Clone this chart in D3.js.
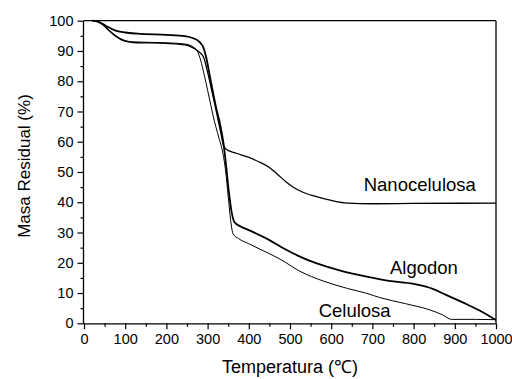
<!DOCTYPE html>
<html><head><meta charset="utf-8">
<script src="https://cdn.jsdelivr.net/npm/d3@7/dist/d3.min.js"></script>
<style>
html,body{margin:0;padding:0;background:#fff;}
svg text{font-family:"Liberation Sans",Arial,Helvetica,sans-serif;fill:#000;}
</style></head>
<body>
<svg id="chart" width="512" height="379"></svg>
<script>
// Data (Temperature °C, residual mass %)
const xTicks = [0,100,200,300,400,500,600,700,800,900,1000];
const yTicks = [0,10,20,30,40,50,60,70,80,90,100];
const seriesNames = ["Algodon","Celulosa","Nanocelulosa"];

const algodon = [[20,100],[30,99.9],[45,99],[60,97.8],[75,96.8],[100,96.1],[130,95.7],[200,95.3],[245,94.9],[265,94.2],[280,93],[290,91],[298,87],[305,82],[315,75],[322,70.5],[330,66],[338,60],[345,52],[352,43],[358,37],[365,33.5],[380,32],[400,30.8],[450,27.5],[484,24.8],[520,22.3],[565,19.8],[620,17.5],[686,15.4],[740,14],[800,13],[848,11.3],[880,9.3],[929,6.3],[970,3.5],[1000,1.1]];

const celulosa = [[20,100],[30,99.8],[45,98.6],[60,97],[75,95.3],[97,93.6],[120,93],[200,92.7],[245,92.3],[265,91.3],[275,90],[283,87],[292,82],[300,77],[308,72],[313,68.8],[320,65],[328,61],[336,57],[344,50],[350,42],[356,34],[362,29.5],[375,28],[400,26.3],[427,24.5],[476,21.2],[524,17.2],[580,14],[640,11.5],[686,9.9],[718,8.5],[780,6.5],[840,4.4],[870,2.8],[892,1.3],[950,1.3],[1000,1.2]];

const nanocelulosa = [[20,100],[30,99.8],[45,98.8],[60,96.8],[75,95],[97,93.3],[120,92.8],[200,92.5],[245,92],[265,91],[278,89.8],[290,88],[300,83],[310,77],[318,72],[325,67.5],[332,63],[338,59],[345,57.5],[370,56.2],[400,54.8],[430,53],[450,51.5],[470,49.2],[490,46.8],[510,44.8],[530,43.4],[560,42],[600,40.6],[640,39.7],[700,39.5],[800,39.6],[1000,39.7]];

const labelPos = [[825,16.3],[657,2.2],[815,43.7]]; // label anchor points in data units (x center, baseline)

const svg = d3.select("#chart");
const L=84, R=496, T=20.7, B=323.3;
const x = d3.scaleLinear().domain([0,1000]).range([L,R]);
const y = d3.scaleLinear().domain([0,100]).range([B,T]);

// frame top/right
svg.append("line").attr("x1",L).attr("x2",R).attr("y1",T).attr("y2",T).attr("stroke","#000").attr("stroke-width",1.3);
svg.append("line").attr("x1",R).attr("x2",R).attr("y1",T).attr("y2",B).attr("stroke","#000").attr("stroke-width",1.3);

// minor ticks
const gx = svg.append("g").attr("transform",`translate(0,${B})`);
gx.call(d3.axisBottom(x).tickValues(d3.range(50,1000,100)).tickSize(3.5).tickFormat(""));
const gy = svg.append("g").attr("transform",`translate(${L},0)`);
gy.call(d3.axisLeft(y).tickValues(d3.range(5,100,10)).tickSize(3.5).tickFormat(""));
// major
const gx2 = svg.append("g").attr("transform",`translate(0,${B})`)
  .call(d3.axisBottom(x).tickValues(xTicks).tickSize(6).tickPadding(4).tickFormat(d3.format("d")));
const gy2 = svg.append("g").attr("transform",`translate(${L},0)`)
  .call(d3.axisLeft(y).tickValues(yTicks).tickSize(6.5).tickPadding(4).tickFormat(d3.format("d")));
svg.selectAll("g path.domain").attr("stroke","#000").attr("stroke-width",1.3);
svg.selectAll("g .tick line").attr("stroke","#000").attr("stroke-width",1.2);
svg.selectAll("g .tick text").attr("font-size",14.5).attr("font-family","'Liberation Sans',Arial,sans-serif");
gx.select(".domain").remove(); gy.select(".domain").remove();
gx2.select(".domain").attr("d",`M${L},0.5H${R}`);
gy2.select(".domain").attr("d",`M-0.5,${B}V${T}`);

// lines
const line = d3.line().x(d=>x(d[0])).y(d=>y(d[1])).curve(d3.curveMonotoneX);
const data = [algodon, celulosa, nanocelulosa];
const widths = [1.8, 1.0, 1.3];
data.forEach((s,i)=>{
  svg.append("path").datum(s).attr("d",line).attr("fill","none").attr("stroke","#000").attr("stroke-width",widths[i]);
});

// labels
seriesNames.forEach((n,i)=>{
  svg.append("text").attr("x",x(labelPos[i][0])).attr("y",y(labelPos[i][1]))
    .attr("text-anchor","middle").attr("font-size",18.5).text(n);
});

// axis titles
svg.append("text").attr("x",(L+R)/2).attr("y",373).attr("text-anchor","middle").attr("font-size",18).text("Temperatura (℃)");
svg.append("text").attr("transform",`translate(30,166) rotate(-90)`).attr("text-anchor","middle").attr("font-size",17).text("Masa Residual (%)");
</script>
</body></html>
